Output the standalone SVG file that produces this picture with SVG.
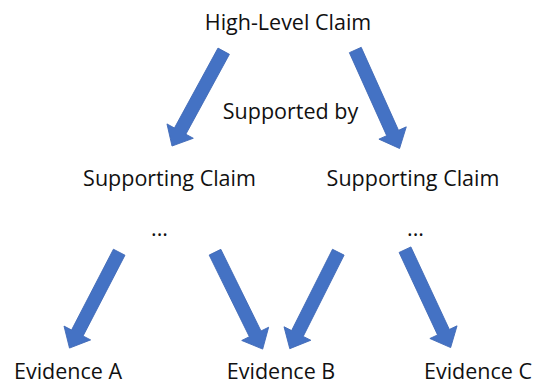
<svg xmlns="http://www.w3.org/2000/svg" xmlns:xlink="http://www.w3.org/1999/xlink" width="535" height="385" viewBox="0 0 535 385">
  <style>
    .label { font-family: "Open Sans", "Liberation Sans", sans-serif; font-size: 21.5px; fill: #111111; text-anchor: middle; }
    .block { fill: #4472C4; stroke: #3F69B6; stroke-width: 0.8; stroke-linejoin: miter; }
  </style>
  <defs>
    <!-- block arrow pointing along +x, tail at origin -->
    <path id="blockArrow" d="M0,-6.5 L91,-6.5 L91,-15 L108,0 L91,15 L91,6.5 L0,6.5 Z"/>
  </defs>
  <rect width="535" height="385" fill="#ffffff"/>

  <g id="connectors">
    <use xlink:href="#blockArrow" class="block" transform="translate(223.7,51.2) rotate(118.6)"/>
    <use xlink:href="#blockArrow" class="block" transform="translate(355.3,50) rotate(65.8)"/>
    <use xlink:href="#blockArrow" class="block" transform="translate(119.2,252.2) rotate(117.4)"/>
    <use xlink:href="#blockArrow" class="block" transform="translate(215,252.2) rotate(63.8)"/>
    <use xlink:href="#blockArrow" class="block" transform="translate(338.3,252.2) rotate(116.7)"/>
    <use xlink:href="#blockArrow" class="block" transform="translate(405,249.7) rotate(65)"/>
  </g>

  <g id="high-level-claim"><text class="label" x="288" y="30">High-Level Claim</text></g>
  <g id="supported-by"><text class="label" x="290.5" y="119">Supported by</text></g>
  <g id="supporting-claim-left"><text class="label" x="169.5" y="186">Supporting Claim</text></g>
  <g id="supporting-claim-right"><text class="label" x="413" y="186">Supporting Claim</text></g>
  <g id="ellipsis-left"><text class="label" x="159.5" y="236">...</text></g>
  <g id="ellipsis-right"><text class="label" x="415.5" y="236">...</text></g>
  <g id="evidence-a"><text class="label" x="68" y="379">Evidence A</text></g>
  <g id="evidence-b"><text class="label" x="281" y="379">Evidence B</text></g>
  <g id="evidence-c"><text class="label" x="478" y="379">Evidence C</text></g>
</svg>
